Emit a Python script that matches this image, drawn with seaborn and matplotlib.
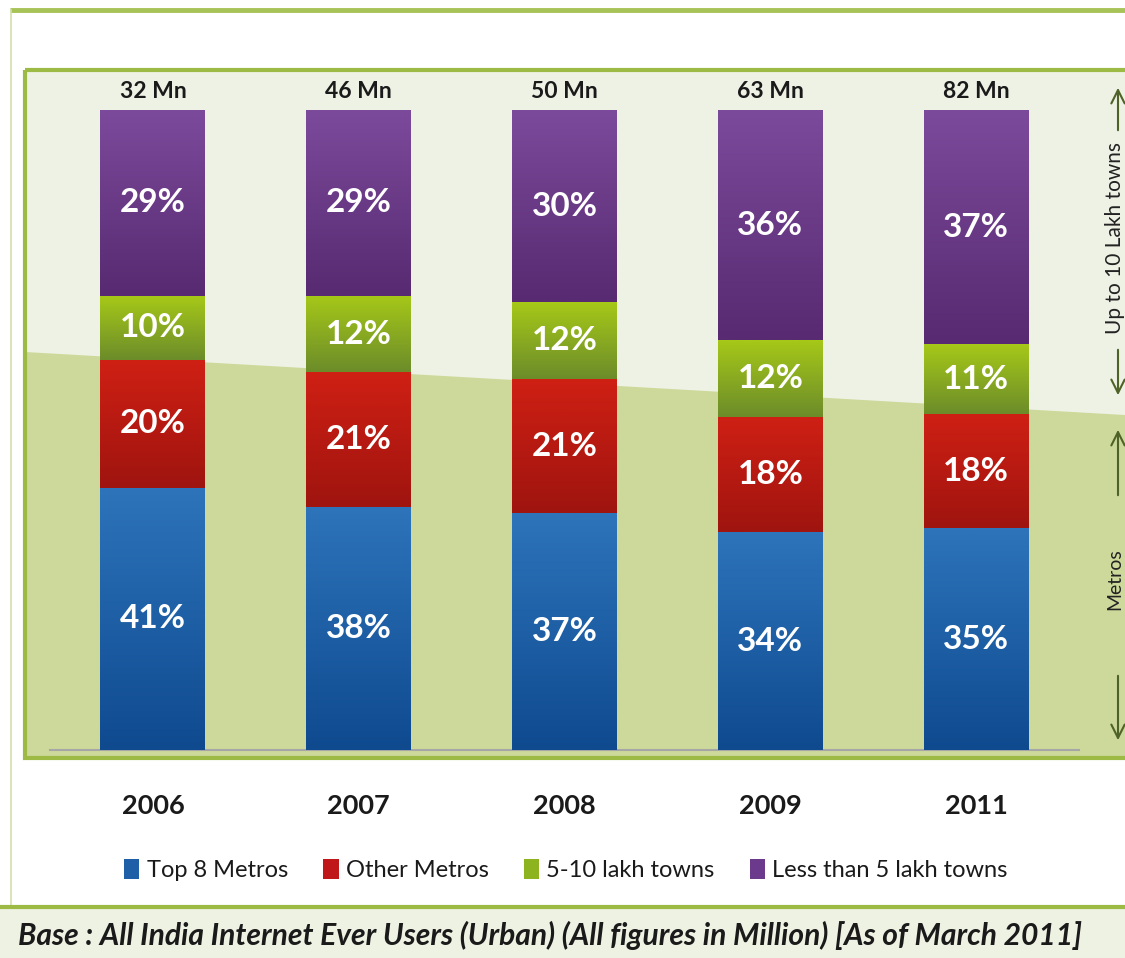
import numpy as np
import pandas as pd
import matplotlib
matplotlib.use('Agg')
import matplotlib.pyplot as plt
from matplotlib.patches import Rectangle, Polygon, Patch
from matplotlib.colors import to_rgb
import seaborn as sns

# data (percent share of urban internet users)
years = ['2006', '2007', '2008', '2009', '2011']
users_mn = [32, 46, 50, 63, 82]
top8_metros = [41, 38, 37, 34, 35]
other_metros = [20, 21, 21, 18, 18]
towns_5_10 = [10, 12, 12, 12, 11]
less_than_5 = [29, 29, 30, 36, 37]

seg_names = ['Top 8 Metros', 'Other Metros', '5-10 lakh towns', 'Less than 5 lakh towns']
seg_values = [top8_metros, other_metros, towns_5_10, less_than_5]
legend_colors = ['#1f5fa8', '#c0181a', '#8db31f', '#6b3a8c']
grad_colors = [('#2d74bb', '#0f4a8f'), ('#cf2014', '#9f140f'),
               ('#a6c818', '#6c8c2a'), ('#7c4a9b', '#572a71')]

plt.rcParams['font.family'] = ['Lato', 'DejaVu Sans']

W, H = 1125, 958
fig = plt.figure(figsize=(W / 100, H / 100), dpi=100)
fig.patch.set_facecolor('white')

# background decoration in pixel coords
bg = fig.add_axes([0, 0, 1, 1])
bg.set_xlim(0, W)
bg.set_ylim(H, 0)
bg.axis('off')
bg.add_patch(Rectangle((0, 908), W, 50, facecolor='#eef2e3', edgecolor='none'))
bg.plot([10, W], [10, 10], color='#a7c256', lw=3.5, solid_capstyle='butt')
bg.plot([11, 11], [10, 907], color='#d3dfae', lw=1.2)
bg.plot([0, W], [907, 907], color='#9dbb44', lw=3)
bg.add_patch(Rectangle((25, 70), 1110, 688, facecolor='#eef2e4', edgecolor='none'))
bg.add_patch(Polygon([(25, 352), (W, 415), (W, 758), (25, 758)], facecolor='#cdd99b', edgecolor='none'))
bg.add_patch(Rectangle((25, 70), 1110, 688, facecolor='none', edgecolor='#9dbb44', lw=3))

arrow_kw = dict(arrowstyle='->', color='#4f6228', lw=1.5, mutation_scale=24)
arr_x = 1118
bg.annotate('', xy=(arr_x, 85), xytext=(arr_x, 133), arrowprops=arrow_kw)
bg.annotate('', xy=(arr_x, 398), xytext=(arr_x, 347), arrowprops=arrow_kw)
bg.text(1115, 238, 'Up to 10 Lakh towns', rotation=90, ha='center', va='center',
        fontsize=15, color='#222222')
bg.annotate('', xy=(arr_x, 427), xytext=(arr_x, 498), arrowprops=arrow_kw)
bg.annotate('', xy=(arr_x, 743), xytext=(arr_x, 673), arrowprops=arrow_kw)
bg.text(1115, 579, 'Metros', rotation=90, ha='center', va='center',
        fontsize=14, color='#222222')

bg.text(18, 935, 'Base : All India Internet Ever Users (Urban) (All figures in Million) [As of March 2011]',
        fontsize=21.6, fontweight='bold', fontstyle='italic', color='#1a1a1a', va='center')

# bar axes
ax = fig.add_axes([50 / W, 208 / H, 1029 / W, 640 / H])
ax.patch.set_alpha(0)

vals = np.array(seg_values, dtype=float)
heights = vals / vals.sum(axis=0) * 100
cum = np.cumsum(heights, axis=0)
df = pd.DataFrame({'year': years})
for k in range(4):
    df[f'cum{k}'] = cum[k]

bw = 0.51
for k in range(3, -1, -1):
    sns.barplot(data=df, x='year', y=f'cum{k}', color=legend_colors[k], saturation=1,
                width=bw, errorbar=None, ax=ax, zorder=2)

# vertical gradient on each segment
n = 64
for k in range(4):
    c_top, c_bot = np.array(to_rgb(grad_colors[k][0])), np.array(to_rgb(grad_colors[k][1]))
    t = np.linspace(0, 1, n)[:, None]
    grad = (c_top * (1 - t) + c_bot * t)[:, None, :]
    for i in range(len(years)):
        lo = cum[k - 1][i] if k > 0 else 0
        hi = cum[k][i]
        ax.imshow(grad, extent=(i - bw / 2, i + bw / 2, lo, hi), aspect='auto',
                  origin='upper', zorder=3, interpolation='bilinear')
        ax.text(i, (lo + hi) / 2, f'{seg_values[k][i]}%', ha='center', va='center',
                color='white', fontsize=24, fontweight='bold', zorder=4)

for i, u in enumerate(users_mn):
    ax.text(i, 101.3, f'{u} Mn', ha='center', va='bottom', fontsize=16.5,
            fontweight='bold', color='#1a1a1a', clip_on=False)

ax.set_xlim(-0.5, len(years) - 0.5)
ax.set_ylim(0, 100)
ax.set_xlabel('')
ax.set_ylabel('')
ax.set_yticks([])
ax.tick_params(axis='x', length=0, pad=32)
for lab in ax.get_xticklabels():
    lab.set_fontsize(19.5)
    lab.set_fontweight('bold')
    lab.set_color('#1a1a1a')
for s in ['top', 'right', 'left']:
    ax.spines[s].set_visible(False)
ax.spines['bottom'].set_color('#a6a6a6')
ax.spines['bottom'].set_linewidth(1.5)
ax.spines['bottom'].set_zorder(1)

handles = [Patch(facecolor=c, edgecolor='none') for c in legend_colors]
fig.legend(handles, seg_names, loc='center', bbox_to_anchor=(566 / W, 1 - 870 / H),
           ncol=4, frameon=False, fontsize=17, handlelength=0.65, handleheight=0.9,
           handletextpad=0.3, columnspacing=1.5, labelcolor='#1a1a1a')

fig.savefig('out.png', dpi=100, facecolor='white')
